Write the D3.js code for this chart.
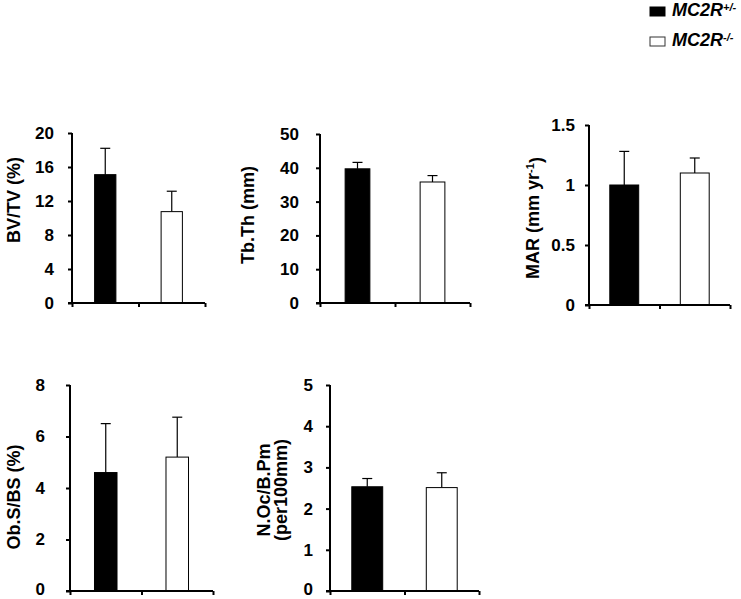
<!DOCTYPE html>
<html>
<head>
<meta charset="utf-8">
<script src="https://cdn.jsdelivr.net/npm/d3@7"></script>
<style>
  html, body { margin: 0; padding: 0; background: #fff; }
  svg { display: block; font-family: "Liberation Sans", Arial, sans-serif; }
</style>
</head>
<body>
<svg id="chart" width="741" height="599"></svg>
<script>
// ---- Data ----
const groups = ["MC2R+/-", "MC2R-/-"];
const panelNames = ["BV/TV", "Tb.Th", "MAR", "Ob.S/BS", "N.Oc/B.Pm"];
const meanHet = [15.1, 39.7, 1.0, 4.6, 2.53];
const errHet  = [3.1, 1.9, 0.28, 1.9, 0.2];
const meanKo  = [10.75, 35.8, 1.1, 5.2, 2.51];
const errKo   = [2.4, 1.9, 0.125, 1.55, 0.36];
const yMax    = [20, 50, 1.5, 8, 5];
const yTicks  = [
  [0, 4, 8, 12, 16, 20],
  [0, 10, 20, 30, 40, 50],
  [0, 0.5, 1, 1.5],
  [0, 2, 4, 6, 8],
  [0, 1, 2, 3, 4, 5]
];

// ---- Layout (pixels) ----
const layout = [
  {x0: 72,  x1: 205, top: 133, bottom: 303, pad: 0.68,  gap: 18, lx: 19.5, ly: 200},
  {x0: 320, x1: 470, top: 134, bottom: 303, pad: 0.67,  gap: 21, lx: 254,  ly: 215},
  {x0: 589, x1: 730, top: 125, bottom: 305, pad: 0.59,  gap: 14, lx: 539,  ly: 218},
  {x0: 70,  x1: 213, top: 385, bottom: 591, pad: 0.685, gap: 25, lx: 20,   ly: 497},
  {x0: 330, x1: 479, top: 385, bottom: 591, pad: 0.585, gap: 17, lx: 270,  ly: 490}
];
const fills = ["#000000", "#ffffff"];

const svg = d3.select("#chart");

panelNames.forEach((name, i) => {
  const L = layout[i];
  const g = svg.append("g");
  const x = d3.scaleBand().domain(groups).range([L.x0, L.x1])
    .paddingInner(L.pad).paddingOuter(L.pad / 2);
  const y = d3.scaleLinear().domain([0, yMax[i]]).range([L.bottom, L.top]);

  const rows = [
    {grp: groups[0], m: meanHet[i], e: errHet[i], fill: fills[0]},
    {grp: groups[1], m: meanKo[i],  e: errKo[i],  fill: fills[1]}
  ];

  // error bars (upper only)
  rows.forEach(r => {
    const cx = x(r.grp) + x.bandwidth() / 2;
    g.append("line").attr("x1", cx).attr("x2", cx)
      .attr("y1", y(r.m)).attr("y2", y(r.m + r.e))
      .attr("stroke", "#000").attr("stroke-width", 1.2);
    g.append("line").attr("x1", cx - 5).attr("x2", cx + 5)
      .attr("y1", y(r.m + r.e)).attr("y2", y(r.m + r.e))
      .attr("stroke", "#000").attr("stroke-width", 1.2);
  });

  // bars
  g.selectAll("rect.bar").data(rows).join("rect")
    .attr("class", "bar")
    .attr("x", d => x(d.grp))
    .attr("width", x.bandwidth())
    .attr("y", d => y(d.m))
    .attr("height", d => y(0) - y(d.m))
    .attr("fill", d => d.fill)
    .attr("stroke", "#000").attr("stroke-width", 1);

  // y axis
  const yAxis = d3.axisLeft(y).tickValues(yTicks[i]).tickSize(4).tickPadding(L.gap - 4)
    .tickFormat(d3.format("~g"));
  const ya = g.append("g").attr("transform", `translate(${L.x0},0)`).call(yAxis);
  ya.attr("font-size", 17).attr("font-family", null);
  ya.select(".domain").attr("stroke-width", 2).attr("d", `M0,${L.top}V${L.bottom}`);
  ya.selectAll(".tick line").attr("stroke-width", 2);
  ya.selectAll(".tick text").attr("font-size", 17).attr("font-weight", "bold").attr("fill", "#000");
  if (L.bottom > 580) {
    ya.selectAll(".tick text").filter(d => d === 0).attr("dy", "0.18em");
  }

  // x axis (no labels)
  const xs = d3.scaleLinear().domain([0, 2]).range([L.x0, L.x1]);
  const xAxis = d3.axisBottom(xs).tickValues([0, 1, 2]).tickSize(4).tickFormat("");
  const xa = g.append("g").attr("transform", `translate(0,${L.bottom})`).call(xAxis);
  xa.select(".domain").attr("stroke-width", 2).attr("d", `M${L.x0 - 4},0H${L.x1}`);
  xa.selectAll(".tick line").attr("stroke-width", 2);

  // y label
  const t = g.append("text")
    .attr("transform", `translate(${L.lx},${L.ly}) rotate(-90)`)
    .attr("text-anchor", "middle")
    .attr("font-size", 18).attr("font-weight", "bold").attr("fill", "#000");
  if (i === 0) t.text("BV/TV (%)");
  if (i === 1) t.text("Tb.Th (mm)");
  if (i === 2) {
    t.append("tspan").text("MAR (mm yr");
    t.append("tspan").attr("dy", "-0.45em").attr("font-size", 11).text("-1");
    t.append("tspan").attr("dy", "0.45em").text(")");
  }
  if (i === 3) t.text("Ob.S/BS (%)");
  if (i === 4) {
    t.append("tspan").attr("x", 0).attr("dy", 0).text("N.Oc/B.Pm");
    t.append("tspan").attr("x", 0).attr("dy", 17).text("(per100mm)");
  }
});

// ---- Legend ----
const legend = svg.append("g");
const legSup = ["+/-", "-/-"];
groups.forEach((gname, k) => {
  const yy = 7 + k * 30;
  legend.append("rect").attr("x", 650).attr("y", yy).attr("width", 15).attr("height", 9)
    .attr("fill", fills[k]).attr("stroke", k === 0 ? "#000" : "#333").attr("stroke-width", 1);
  const tx = legend.append("text").attr("x", 672).attr("y", yy + 9)
    .attr("font-size", 18).attr("font-weight", "bold").attr("font-style", "italic").attr("fill", "#000");
  tx.append("tspan").text("MC2R");
  tx.append("tspan").attr("dy", "-0.45em").attr("font-size", 11).text(legSup[k]);
});
</script>
</body>
</html>
